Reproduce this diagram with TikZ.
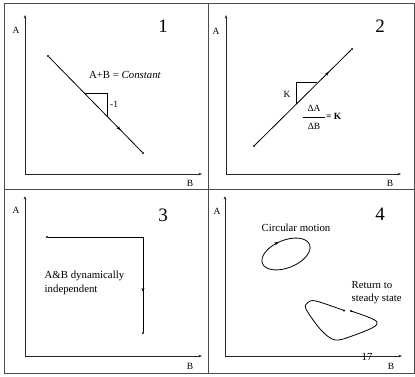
\documentclass[tikz,border=0pt]{standalone}
\usepackage{fontspec}
\setmainfont{Liberation Serif}
\usetikzlibrary{arrows.meta,decorations.markings}
\begin{document}
\begin{tikzpicture}[x=1pt,y=-1pt,
  frame/.style={draw=black!70, line width=1pt},
  axis/.style={black!85, line width=0.7pt, -{Stealth[length=3.5pt,width=2.6pt]}},
  traj/.style={black, line width=0.8pt},
  dot/.style={circle, fill=black, inner sep=0pt, minimum size=2.4pt},
  axlabel/.style={font=\fontsize{9.5}{10}\selectfont, inner sep=0pt},
  panelnum/.style={font=\fontsize{19}{20}\selectfont, inner sep=0pt},
  txt/.style={font=\fontsize{10.8}{13.5}\selectfont, inner sep=0pt},
  smalltxt/.style={font=\fontsize{9.5}{11}\selectfont, inner sep=0pt},
  midarrow/.style={postaction={decorate}, decoration={markings, mark=at position #1 with {\arrow{Stealth[length=4pt,width=3pt]}}}},
  revarrow/.style={postaction={decorate}, decoration={markings, mark=at position #1 with {\arrowreversed{Stealth[length=4pt,width=3pt]}}}},
]
\useasboundingbox (0,0) rectangle (415,377);
% frame
\coordinate (fTL) at (4.5,3.5);
\coordinate (fBR) at (414,373);
\draw[frame] (fTL) rectangle (fBR);
\coordinate (vT) at (208,3.5); \coordinate (vB) at (208,373);
\coordinate (hL) at (4.5,189); \coordinate (hR) at (414,189);
\draw[frame] (vT) -- (vB);
\draw[frame] (hL) -- (hR);

% ---------- panel 1
\coordinate (o1) at (25,174); \coordinate (a1) at (25,15); \coordinate (b1) at (202,174);
\draw[axis] (o1) -- (a1);
\draw[axis] (o1) -- (b1);
\node[axlabel] (la1) at (16,30) {A};
\node[axlabel] (lb1) at (190,183) {B};
\node[panelnum] (n1) at (163,26) {1};
\node[dot] (p1s) at (48,56) {};
\node[dot] (p1e) at (143,153) {};
\draw[traj, midarrow=0.77] (p1s) -- (p1e);
\coordinate (t1a) at (85,93.8); \coordinate (t1b) at (107,93.8); \coordinate (t1c) at (107,116.3);
\draw[traj] (t1a) -- (t1b) -- (t1c);
\node[smalltxt, anchor=west] (m1) at (110,104) {-1};
\node[txt] (c1) at (125,75) {A+B = \textit{Constant}};

% ---------- panel 2
\coordinate (o2) at (226,174); \coordinate (a2) at (226,15); \coordinate (b2) at (401,174);
\draw[axis] (o2) -- (a2);
\draw[axis] (o2) -- (b2);
\node[axlabel] (la2) at (216,31) {A};
\node[axlabel] (lb2) at (390,183) {B};
\node[panelnum] (n2) at (380,26) {2};
\node[dot] (p2s) at (254,146) {};
\node[dot] (p2e) at (352,49) {};
\draw[traj, midarrow=0.77] (p2s) -- (p2e);
\coordinate (t2a) at (296,104.4); \coordinate (t2b) at (296,82.5); \coordinate (t2c) at (317,82.5);
\draw[traj] (t2a) -- (t2b) -- (t2c);
\node[smalltxt] (k2) at (287,94) {K};
\node[smalltxt] (dA) at (314,108) {ΔA};
\node[smalltxt] (dB) at (314,126) {ΔB};
\coordinate (barL) at (303,117); \coordinate (barR) at (325,117);
\draw[black, line width=0.6pt] (barL) -- (barR);
\node[smalltxt, anchor=west] (eqk) at (326,116.5) {\textbf{= K}};

% ---------- panel 3
\coordinate (o3) at (25,356); \coordinate (a3) at (25,196); \coordinate (b3) at (202,356);
\draw[axis] (o3) -- (a3);
\draw[axis] (o3) -- (b3);
\node[axlabel] (la3) at (16,210) {A};
\node[axlabel] (lb3) at (190,366) {B};
\node[panelnum] (n3) at (163,215) {3};
\node[dot] (p3s) at (47,237) {};
\coordinate (p3c) at (143,237);
\node[dot] (p3e) at (143,333) {};
\draw[traj, midarrow=0.79] (p3s) -- (p3c) -- (p3e);
\node[txt, anchor=north west, align=left] (ind3) at (44.5,271) {A\&B dynamically\\independent};

% ---------- panel 4
\coordinate (o4) at (225,356); \coordinate (a4) at (225,196); \coordinate (b4) at (402,356);
\draw[axis] (o4) -- (a4);
\draw[axis] (o4) -- (b4);
\node[axlabel] (la4) at (217,211) {A};
\node[axlabel] (lb4) at (391,366) {B};
\node[panelnum] (n4) at (380,214) {4};
\node[txt] (circ) at (296,228) {Circular motion};
\coordinate (ec) at (286,254);
\draw[traj, rotate around={22:(ec)}, revarrow=0.27] (ec) ellipse (25.4pt and 13.8pt);
\node[txt, anchor=north west, align=left] (ret) at (351.5,281) {Return to\\steady state};
\node[dot] (p4s) at (351,311) {};
\node[dot] (p4e) at (344,310.5) {};
\draw[traj] plot[smooth, tension=0.55] coordinates {(351,311) (368,317) (377,322) (373,327.5) (352,336) (335,340) (321,330) (306,309) (308,302.5) (316,301) (344,310.5)};
\node[txt] (pg) at (367,357) {17};
\end{tikzpicture}
\end{document}
